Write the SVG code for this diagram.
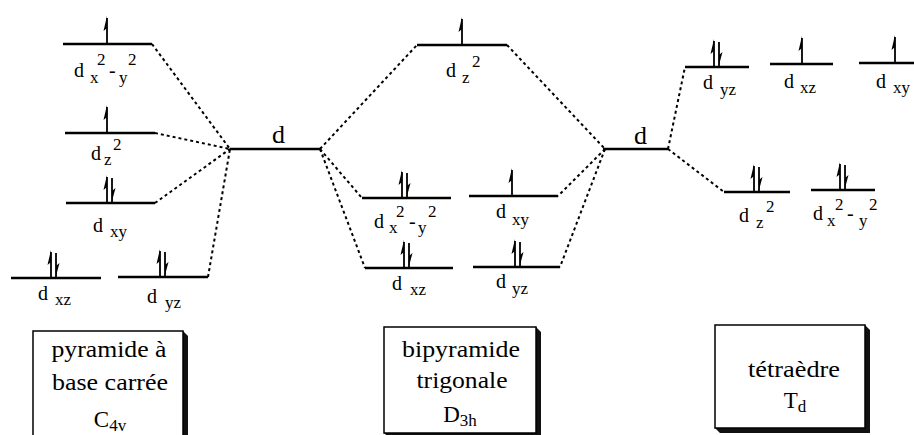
<svg xmlns="http://www.w3.org/2000/svg" xmlns:xlink="http://www.w3.org/1999/xlink" width="914" height="435" viewBox="0 0 914 435" font-family="Liberation Serif, Times New Roman, serif">
<style>
.lv{stroke:#000;stroke-width:2.5;fill:none}
.dash{stroke:#000;stroke-width:2;stroke-dasharray:3 3;fill:none}
.t{font-size:20px;fill:#000}
.s{font-size:17px}
.big{font-size:26px;fill:#000}
.box{fill:#fff;stroke:#000;stroke-width:1.5}
.sh{fill:#111}
.bt{font-size:23px;fill:#000;text-anchor:middle}
.bs{font-size:17px}
</style>
<defs>
<g id="up"><line x1="0" y1="0" x2="0" y2="-26" stroke="#000" stroke-width="1.8"/><path d="M0,-28 L-3.5,-13 L0,-16 Z" fill="#000"/></g>
<g id="down"><line x1="0" y1="-25" x2="0" y2="0" stroke="#000" stroke-width="1.8"/><path d="M0,-2 L3.5,-15 L0,-12 Z" fill="#000"/></g>
<g id="pair"><use href="#up" xlink:href="#up"/><use href="#down" xlink:href="#down" x="5"/></g>
</defs>
<rect width="914" height="435" fill="#fff"/>

<g id="connectors">
<line class="dash" x1="152" y1="44" x2="230" y2="149"/>
<line class="dash" x1="155" y1="133" x2="230" y2="149"/>
<line class="dash" x1="155" y1="203" x2="230" y2="149"/>
<line class="dash" x1="208" y1="277" x2="230" y2="149"/>
<line class="dash" x1="320" y1="149" x2="417" y2="45"/>
<line class="dash" x1="507" y1="45" x2="605" y2="149"/>
<line class="dash" x1="320" y1="149" x2="362" y2="198"/>
<line class="dash" x1="320" y1="149" x2="365" y2="268"/>
<line class="dash" x1="605" y1="149" x2="558" y2="196"/>
<line class="dash" x1="605" y1="149" x2="560" y2="267"/>
<line class="dash" x1="668" y1="149" x2="685" y2="67"/>
<line class="dash" x1="668" y1="149" x2="724" y2="192"/>
</g>

<g id="d-center">
<line class="lv" x1="230" y1="149" x2="320" y2="149"/>
<text class="big" x="272" y="143">d</text>
</g>
<g id="d-right">
<line class="lv" x1="603" y1="149" x2="668" y2="149"/>
<text class="big" x="634" y="144">d</text>
</g>

<g id="c4v-dx2y2">
<line class="lv" x1="63" y1="44" x2="152" y2="44"/>
<use href="#up" xlink:href="#up" x="107" y="44"/>
<text class="t"><tspan x="74" y="77">d</tspan><tspan class="s" x="90" y="83">x</tspan><tspan class="s" x="97" y="65">2</tspan><tspan x="109" y="77">-</tspan><tspan class="s" x="119" y="83">y</tspan><tspan class="s" x="128" y="65">2</tspan></text>
</g>
<g id="c4v-dz2">
<line class="lv" x1="65" y1="133" x2="155" y2="133"/>
<use href="#up" xlink:href="#up" x="107" y="133"/>
<text class="t"><tspan x="91" y="160">d</tspan><tspan class="s" x="104" y="165">z</tspan><tspan class="s" x="113" y="150">2</tspan></text>
</g>
<g id="c4v-dxy">
<line class="lv" x1="66" y1="203" x2="155" y2="203"/>
<use href="#pair" xlink:href="#pair" x="107" y="203"/>
<text class="t"><tspan x="93" y="232">d</tspan><tspan class="s" x="110" y="237">xy</tspan></text>
</g>
<g id="c4v-dxz">
<line class="lv" x1="11" y1="278" x2="101" y2="278"/>
<use href="#pair" xlink:href="#pair" x="51" y="278"/>
<text class="t"><tspan x="38" y="300">d</tspan><tspan class="s" x="55" y="305">xz</tspan></text>
</g>
<g id="c4v-dyz">
<line class="lv" x1="118" y1="277" x2="208" y2="277"/>
<use href="#pair" xlink:href="#pair" x="160" y="277"/>
<text class="t"><tspan x="147" y="303">d</tspan><tspan class="s" x="165" y="308">yz</tspan></text>
</g>

<g id="d3h-dz2">
<line class="lv" x1="417" y1="45" x2="507" y2="45"/>
<use href="#up" xlink:href="#up" x="462" y="45"/>
<text class="t"><tspan x="446" y="77">d</tspan><tspan class="s" x="462" y="83">z</tspan><tspan class="s" x="472" y="67">2</tspan></text>
</g>
<g id="d3h-dx2y2">
<line class="lv" x1="362" y1="198" x2="451" y2="198"/>
<use href="#pair" xlink:href="#pair" x="402" y="198"/>
<text class="t"><tspan x="374" y="228">d</tspan><tspan class="s" x="389" y="233">x</tspan><tspan class="s" x="396" y="217">2</tspan><tspan x="409" y="228">-</tspan><tspan class="s" x="418" y="233">y</tspan><tspan class="s" x="428" y="217">2</tspan></text>
</g>
<g id="d3h-dxy">
<line class="lv" x1="469" y1="196" x2="558" y2="196"/>
<use href="#up" xlink:href="#up" x="512" y="196"/>
<text class="t"><tspan x="496" y="218">d</tspan><tspan class="s" x="512" y="225">xy</tspan></text>
</g>
<g id="d3h-dxz">
<line class="lv" x1="365" y1="268" x2="453" y2="268"/>
<use href="#pair" xlink:href="#pair" x="404" y="268"/>
<text class="t"><tspan x="392" y="290">d</tspan><tspan class="s" x="410" y="295">xz</tspan></text>
</g>
<g id="d3h-dyz">
<line class="lv" x1="473" y1="267" x2="560" y2="267"/>
<use href="#pair" xlink:href="#pair" x="515" y="267"/>
<text class="t"><tspan x="496" y="288">d</tspan><tspan class="s" x="512" y="294">yz</tspan></text>
</g>

<g id="td-dyz">
<line class="lv" x1="685" y1="67" x2="749" y2="67"/>
<use href="#pair" xlink:href="#pair" x="714" y="67"/>
<text class="t"><tspan x="703" y="89">d</tspan><tspan class="s" x="720" y="95">yz</tspan></text>
</g>
<g id="td-dxz">
<line class="lv" x1="770" y1="64" x2="833" y2="64"/>
<use href="#up" xlink:href="#up" x="802" y="64"/>
<text class="t"><tspan x="784" y="88">d</tspan><tspan class="s" x="800" y="93">xz</tspan></text>
</g>
<g id="td-dxy">
<line class="lv" x1="859" y1="63" x2="914" y2="63"/>
<use href="#up" xlink:href="#up" x="895" y="63"/>
<text class="t"><tspan x="876" y="88">d</tspan><tspan class="s" x="893" y="93">xy</tspan></text>
</g>
<g id="td-dz2">
<line class="lv" x1="724" y1="192" x2="790" y2="192"/>
<use href="#pair" xlink:href="#pair" x="754" y="192"/>
<text class="t"><tspan x="739" y="222">d</tspan><tspan class="s" x="756" y="228">z</tspan><tspan class="s" x="766" y="212">2</tspan></text>
</g>
<g id="td-dx2y2">
<line class="lv" x1="811" y1="190" x2="875" y2="190"/>
<use href="#pair" xlink:href="#pair" x="840" y="190"/>
<text class="t"><tspan x="813" y="220">d</tspan><tspan class="s" x="827" y="226">x</tspan><tspan class="s" x="835" y="210">2</tspan><tspan x="847" y="220">-</tspan><tspan class="s" x="859" y="226">y</tspan><tspan class="s" x="869" y="210">2</tspan></text>
</g>

<g id="box-c4v">
<path class="sh" d="M183,331 L188,336 L188,440 L183,440 Z"/>
<rect class="box" x="33" y="331" width="150" height="110"/>
<text class="bt" x="109" y="357" textLength="115" lengthAdjust="spacingAndGlyphs">pyramide à</text>
<text class="bt" x="110" y="390" textLength="116" lengthAdjust="spacingAndGlyphs">base carrée</text>
<text class="bt" x="110" y="427">C<tspan class="bs" dy="4">4v</tspan></text>
</g>
<g id="box-d3h">
<path class="sh" d="M536,327 L541,332 L541,438 L389,438 L384,433 L536,433 Z"/>
<rect class="box" x="384" y="327" width="152" height="106"/>
<text class="bt" x="461" y="357" textLength="118" lengthAdjust="spacingAndGlyphs">bipyramide</text>
<text class="bt" x="462" y="388" textLength="91" lengthAdjust="spacingAndGlyphs">trigonale</text>
<text class="bt" x="460" y="422">D<tspan class="bs" dy="4">3h</tspan></text>
</g>
<g id="box-td">
<path class="sh" d="M865,325 L870,330 L870,433 L720,433 L715,428 L865,428 Z"/>
<rect class="box" x="715" y="325" width="150" height="103"/>
<text class="bt" x="794" y="377" textLength="92" lengthAdjust="spacingAndGlyphs">tétraèdre</text>
<text class="bt" x="795" y="408">T<tspan class="bs" dy="4">d</tspan></text>
</g>
</svg>
